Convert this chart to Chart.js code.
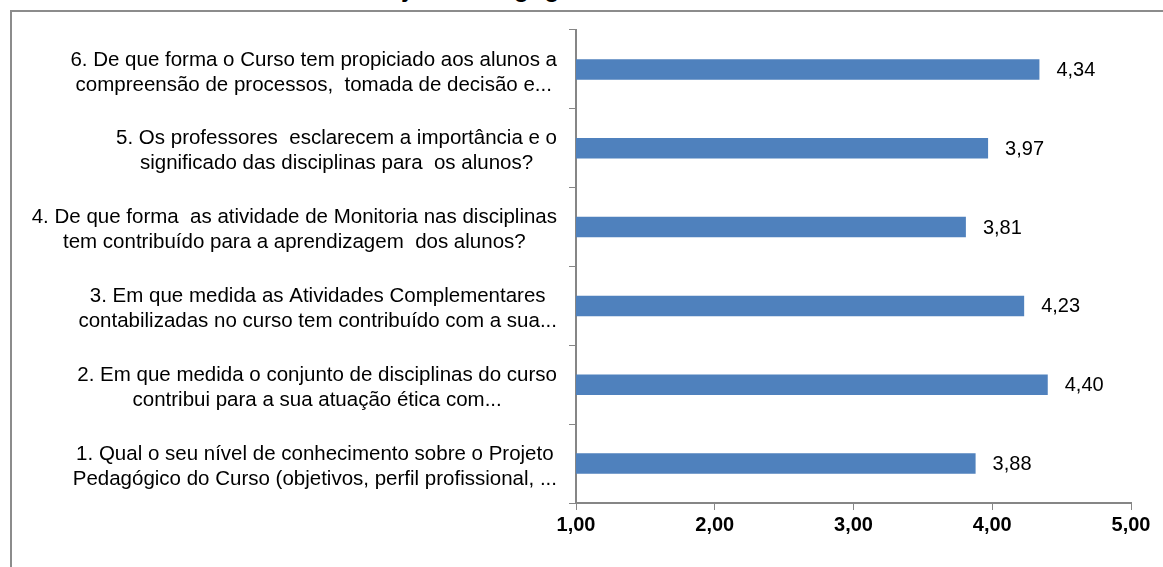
<!DOCTYPE html>
<html>
<head>
<meta charset="utf-8">
<script src="https://cdn.jsdelivr.net/npm/chart.js@4.4.0/dist/chart.umd.min.js"></script>
<style>
    html, body { margin: 0; padding: 0; background: #fff; overflow: hidden; }
    #frame { position: absolute; left: 10px; top: 10px; width: 1300px; height: 700px; border: 2px solid #8c8c8c; }
    #title { position: absolute; left: 361px; top: -24px; font: bold 25px "Liberation Sans Narrow", "Liberation Sans", sans-serif; white-space: nowrap; line-height: 25px; }
    #wrap { position: absolute; left: 0; top: 0; width: 1163px; height: 567px; }
</style>
</head>
<body>
<div id="title">Projeto Pedagógico</div>
<div id="frame"></div>
<div id="wrap"><canvas id="chart"></canvas></div>
<script>
// categories, top to bottom as drawn
const questions = [
    ['6. De que forma o Curso tem propiciado aos alunos a', 'compreensão de processos,  tomada de decisão e...'],
    ['5. Os professores  esclarecem a importância e o', 'significado das disciplinas para  os alunos?'],
    ['4. De que forma  as atividade de Monitoria nas disciplinas', 'tem contribuído para a aprendizagem  dos alunos?'],
    ['3. Em que medida as Atividades Complementares', 'contabilizadas no curso tem contribuído com a sua...'],
    ['2. Em que medida o conjunto de disciplinas do curso', 'contribui para a sua atuação ética com...'],
    ['1. Qual o seu nível de conhecimento sobre o Projeto', 'Pedagógico do Curso (objetivos, perfil profissional, ...']
];
const scores = [4.34, 3.97, 3.81, 4.23, 4.40, 3.88];
const xMin = 1;
const xMax = 5;

const FONT = '"Liberation Sans Narrow", "Liberation Sans", sans-serif';
const fmt = v => v.toFixed(2).replace('.', ',');

// question labels: block right-aligned against the axis, lines centered inside it
const questionLabels = {
    id: 'questionLabels',
    afterDraw(chart) {
        const ctx = chart.ctx;
        const y = chart.scales.y;
        ctx.save();
        ctx.font = '20.5px ' + FONT;
        ctx.fillStyle = '#000';
        ctx.textAlign = 'center';
        ctx.textBaseline = 'middle';
        questions.forEach((lines, i) => {
            const cy = y.getPixelForTick(i) + 3;
            const widest = Math.max(...lines.map(l => ctx.measureText(l).width));
            const cx = 557 - widest / 2;
            lines.forEach((l, j) => {
                ctx.fillText(l, cx, cy + (j - (lines.length - 1) / 2) * 25);
            });
        });
        ctx.restore();
    }
};

const valueLabels = {
    id: 'valueLabels',
    afterDatasetsDraw(chart) {
        const ctx = chart.ctx;
        const meta = chart.getDatasetMeta(0);
        ctx.save();
        ctx.font = '20px ' + FONT;
        ctx.fillStyle = '#000';
        ctx.textAlign = 'left';
        ctx.textBaseline = 'middle';
        meta.data.forEach((bar, i) => {
            ctx.fillText(fmt(scores[i]), bar.x + 17, bar.y + 1);
        });
        ctx.restore();
    }
};

new Chart(document.getElementById('chart'), {
    type: 'bar',
    data: {
        labels: questions,
        datasets: [{
            data: scores,
            backgroundColor: '#4f81bd',
            borderWidth: 0,
            categoryPercentage: 1,
            barPercentage: 0.26
        }]
    },
    options: {
        indexAxis: 'y',
        responsive: true,
        maintainAspectRatio: false,
        animation: false,
        layout: { padding: { top: 30, right: 32, left: 0, bottom: 0 } },
        plugins: { legend: { display: false }, tooltip: { enabled: false } },
        scales: {
            x: {
                min: xMin,
                max: xMax,
                grid: { drawOnChartArea: false, tickLength: 7, color: '#868686' },
                border: { color: '#868686', width: 2 },
                ticks: {
                    stepSize: 1,
                    color: '#000',
                    padding: 3,
                    font: { family: FONT, size: 20, weight: 'bold' },
                    callback: v => fmt(v)
                },
                afterFit: s => { s.height = 64; }
            },
            y: {
                grid: { drawOnChartArea: false, tickLength: 7, color: '#868686', offset: true },
                border: { color: '#868686', width: 2 },
                ticks: { display: false },
                afterFit: s => { s.width = 576; }
            }
        }
    },
    plugins: [questionLabels, valueLabels]
});
</script>
</body>
</html>
